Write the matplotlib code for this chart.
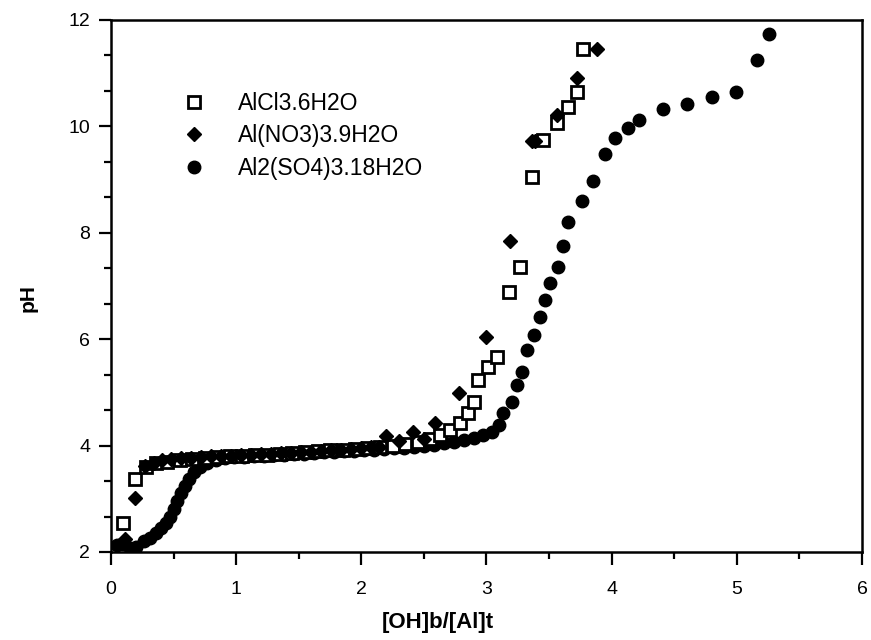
import matplotlib
matplotlib.use("Agg")
import matplotlib.pyplot as plt
from matplotlib.ticker import MultipleLocator

plt.rcParams['font.family'] = ['Liberation Sans', 'DejaVu Sans']

# AlCl3.6H2O (open squares)
cl_x = [0.10, 0.19, 0.28, 0.36, 0.45, 0.55, 0.65, 0.75, 0.85, 0.95, 1.05, 1.15, 1.25, 1.35,
        1.45, 1.55, 1.65, 1.75, 1.85, 1.95, 2.05, 2.15, 2.25, 2.35, 2.45, 2.55, 2.63, 2.71,
        2.79, 2.85, 2.90, 2.93, 3.01, 3.08, 3.18, 3.27, 3.36, 3.45, 3.56, 3.65, 3.72, 3.77]
cl_y = [2.55, 3.37, 3.60, 3.68, 3.70, 3.73, 3.75, 3.76, 3.78, 3.80, 3.80, 3.82, 3.83, 3.85,
        3.86, 3.88, 3.89, 3.91, 3.92, 3.94, 3.96, 3.98, 4.00, 4.03, 4.06, 4.12, 4.20, 4.29,
        4.42, 4.61, 4.82, 5.23, 5.48, 5.67, 6.89, 7.36, 9.05, 9.74, 10.06, 10.36, 10.65, 11.45]

# Al(NO3)3.9H2O (diamonds)
no_x = [0.11, 0.19, 0.27, 0.34, 0.41, 0.48, 0.56, 0.64, 0.72, 0.80,
        0.88, 0.96, 1.04, 1.12, 1.20, 1.28, 1.36, 1.44, 1.52, 1.60,
        1.68, 1.76, 1.84, 1.92, 2.00, 2.08, 2.14, 2.20, 2.30, 2.41,
        2.50, 2.59, 2.78, 3.00, 3.19, 3.36, 3.39, 3.56, 3.72, 3.88]
no_y = [2.25, 3.02, 3.62, 3.68, 3.72, 3.74, 3.76, 3.77, 3.79, 3.80,
        3.80, 3.81, 3.82, 3.83, 3.84, 3.85, 3.86, 3.86, 3.87, 3.88,
        3.89, 3.91, 3.92, 3.93, 3.95, 3.97, 3.98, 4.18, 4.08, 4.25,
        4.12, 4.42, 4.99, 6.04, 7.85, 9.73, 9.73, 10.21, 10.91, 11.45]

# Al2(SO4)3.18H2O (filled circles)
so_x = [0.05, 0.10, 0.15, 0.20, 0.26, 0.31, 0.36, 0.40, 0.44, 0.47,
        0.50, 0.53, 0.56, 0.59, 0.62, 0.66, 0.71, 0.77, 0.84, 0.91,
        0.98, 1.06, 1.14, 1.22, 1.30, 1.38, 1.46, 1.54, 1.62, 1.70,
        1.78, 1.86, 1.94, 2.02, 2.10, 2.18, 2.26, 2.34, 2.42, 2.50,
        2.58, 2.66, 2.74, 2.82, 2.90, 2.97, 3.04, 3.10, 3.13, 3.20,
        3.24, 3.28, 3.32, 3.38, 3.43, 3.47, 3.51, 3.57, 3.61, 3.65,
        3.76, 3.85, 3.95, 4.03, 4.13, 4.22, 4.41, 4.60, 4.80, 4.99,
        5.16, 5.26]
so_y = [2.13, 2.15, 2.08, 2.10, 2.20, 2.27, 2.35, 2.45, 2.55, 2.66,
        2.80, 2.95, 3.10, 3.24, 3.38, 3.50, 3.60, 3.68, 3.73, 3.76,
        3.78, 3.79, 3.80, 3.81, 3.82, 3.83, 3.84, 3.85, 3.86, 3.87,
        3.88, 3.89, 3.90, 3.91, 3.92, 3.93, 3.95, 3.96, 3.98, 4.00,
        4.02, 4.04, 4.07, 4.10, 4.14, 4.19, 4.26, 4.38, 4.61, 4.82,
        5.14, 5.38, 5.80, 6.08, 6.42, 6.74, 7.06, 7.36, 7.75, 8.20,
        8.60, 8.97, 9.48, 9.78, 9.97, 10.12, 10.33, 10.42, 10.55, 10.65,
        11.25, 11.74]

labels = ['AlCl3.6H2O', 'Al(NO3)3.9H2O', 'Al2(SO4)3.18H2O']

fig = plt.figure(figsize=(8.71, 6.4), dpi=100)
ax = fig.add_axes([0.1274, 0.1375, 0.8623, 0.8315])

#circles drawn first so the others sit on top
ax.plot(so_x, so_y, 'o', color='black', markersize=9, linestyle='none', label=labels[2], zorder=2)
ax.plot(cl_x, cl_y, 's', markerfacecolor='white', markeredgecolor='black', markeredgewidth=2,
        markersize=8, linestyle='none', label=labels[0], zorder=3)
ax.plot(no_x, no_y, 'D', color='black', markersize=7.2, linestyle='none', label=labels[1], zorder=4)

ax.set_xlim(0, 6)
ax.set_ylim(2, 12)
ax.xaxis.set_major_locator(MultipleLocator(1))
ax.xaxis.set_minor_locator(MultipleLocator(0.5))
ax.yaxis.set_major_locator(MultipleLocator(2))
ax.yaxis.set_minor_locator(MultipleLocator(2/3))
ax.tick_params(which='major', direction='out', length=9, width=1.6, labelsize=14)
ax.tick_params(which='minor', direction='out', length=5, width=1.6)
ax.tick_params(axis='x', which='major', pad=12)
ax.tick_params(axis='y', which='major', pad=6)
ax.tick_params(axis='x', which='both', top=False)
ax.tick_params(axis='y', which='both', right=False)

for s in ax.spines.values():
    s.set_linewidth(1.8)

ax.set_xlabel('[OH]b/[Al]t', fontsize=16, fontweight='bold')
ax.xaxis.set_label_coords(0.435, -0.112)
ax.set_ylabel('pH', fontsize=15, fontweight='bold')
ax.yaxis.set_label_coords(-0.098, 0.477)

h, l = ax.get_legend_handles_labels()
order = [1, 2, 0]
ax.legend([h[i] for i in order], [l[i] for i in order], loc='center left',
          bbox_to_anchor=(0.065, 0.782), frameon=False, fontsize=16.5, borderpad=0,
          handlelength=2.0, handletextpad=0.9, labelspacing=0.42)

fig.savefig('out.png', dpi=100)
